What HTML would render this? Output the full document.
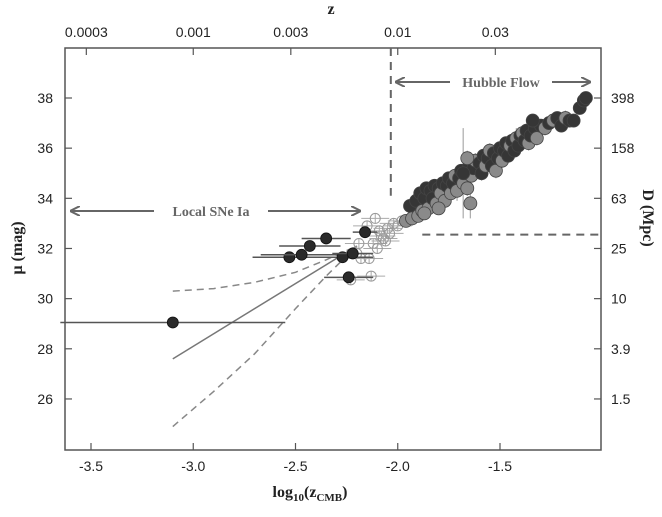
<!DOCTYPE html>
<html><head><meta charset="utf-8"><style>
body{margin:0;background:#fff}
svg text{font-family:"Liberation Sans",sans-serif;fill:#222}
.serif{font-family:"Liberation Serif",serif;font-weight:bold}
</style></head><body>
<svg id="chart" width="662" height="512" viewBox="0 0 662 512" xmlns="http://www.w3.org/2000/svg"></svg>
<script>
const xTicks=[-3.5,-3.0,-2.5,-2.0,-1.5];
const xTickLabels=["-3.5","-3.0","-2.5","-2.0","-1.5"];
const yTicks=[26,28,30,32,34,36,38];
const dTickLabels=["1.5","3.9","10","25","63","158","398"];
const zTicks=[0.0003,0.001,0.003,0.01,0.03];
const zTickLabels=["0.0003","0.001","0.003","0.01","0.03"];
// Hubble-flow SNe [log z, mu, tone(1=dark), error]
const hfX=[-1.96,-1.94,-1.93,-1.91,-1.90,-1.89,-1.88,-1.87,-1.86,-1.85,-1.84,-1.83,-1.82,-1.81,-1.80,-1.79,-1.78,-1.77,-1.76,-1.75,-1.74,-1.73,-1.72,-1.71,-1.70,-1.69,-1.68,-1.67,-1.66,-1.65,-1.64,-1.63,-1.62,-1.645,-1.60,-1.59,-1.58,-1.57,-1.56,-1.55,-1.54,-1.53,-1.52,-1.51,-1.50,-1.49,-1.48,-1.47,-1.46,-1.45,-1.44,-1.43,-1.42,-1.41,-1.40,-1.39,-1.38,-1.37,-1.36,-1.35,-1.33,-1.32,-1.30,-1.34,-1.28,-1.26,-1.24,-1.22,-1.20,-1.18,-1.16,-1.14,-1.11,-1.09,-1.08,-1.87,-1.80,-1.66,-1.68];
const hfY=[33.1,33.7,33.2,33.9,33.3,34.2,33.5,34.0,34.4,33.6,34.3,34.0,34.5,33.8,34.4,34.2,34.6,33.9,34.5,34.8,34.2,34.6,34.9,34.3,34.8,35.1,34.6,35.0,34.4,35.3,34.9,35.2,35.5,33.8,35.4,35.0,35.7,35.3,35.6,35.9,35.3,35.8,35.1,35.6,36.0,35.5,35.9,36.2,35.7,36.1,36.3,35.9,36.4,36.1,36.5,36.6,36.3,36.7,36.2,36.5,36.8,36.4,36.9,37.1,36.8,37.0,37.1,37.2,36.9,37.2,37.1,37.1,37.6,37.9,38.0,33.4,33.6,35.6,35.0];
const hfTone=[0,1,0,1,0,1,0,1,1,0,1,1,1,0,1,0,1,0,1,1,0,1,0,0,1,1,0,1,0,1,0,1,0,0,1,1,1,0,1,0,1,1,0,1,1,0,1,1,1,0,1,1,0,1,1,0,1,1,0,1,1,0,1,1,0,1,0,1,1,0,1,1,1,1,1,0,0,0,1];
const hfErr=[0.2,0.15,0.3,0.15,0.2,0.15,0.2,0.15,0.15,0.4,0.15,0.2,0.15,0.3,0.15,0.2,0.15,0.3,0.15,0.2,0.3,0.15,0.3,0.4,0.15,0.2,0.4,0.15,0.3,0.15,0.2,0.15,0.3,0.6,0.15,0.3,0.15,0.5,0.15,0.3,0.2,0.15,0.3,0.2,0.15,0.3,0.15,0.2,0.15,0.3,0.15,0.2,0.4,0.15,0.2,0.3,0.15,0.2,0.3,0.15,0.2,0.3,0.15,0.2,0.3,0.15,0.3,0.2,0.2,0.3,0.15,0.2,0.15,0.15,0.15,0.2,0.2,0.3,1.8];
// local SNe: filled dark
const locX=[-3.10,-2.53,-2.47,-2.43,-2.35,-2.27,-2.24,-2.22,-2.16];
const locY=[29.05,31.65,31.75,32.1,32.4,31.65,30.85,31.8,32.65];
const locErr=[0.55,0.18,0.2,0.15,0.12,0.15,0.12,0.1,0.06];
// local open circles
const opX=[-2.18,-2.14,-2.12,-2.10,-2.08,-2.06,-2.15,-2.20,-2.13,-2.09,-2.05,-2.02,-2.00,-2.11,-2.19,-2.23,-2.07,-2.04,-1.98];
const opY=[31.6,31.6,32.2,32.0,32.5,32.3,32.9,31.8,30.9,32.7,32.8,33.0,32.9,33.2,32.2,30.75,32.4,32.6,33.1];
// model curves
const lineX=[-3.1,-2.2];
const lineY=[27.6,32.1];
const upX=[-3.1,-2.9,-2.7,-2.5,-2.35,-2.2];
const upY=[30.3,30.4,30.65,31.05,31.55,32.1];
const loX=[-3.1,-2.9,-2.7,-2.5,-2.35,-2.2];
const loY=[24.9,26.3,27.8,29.6,30.9,32.1];

const L=65,R=601,T=48,B=450;
const sx=v=>397.75+(v+2)*204.5;
const sy=m=>98+(38-m)*25.08;
const svg=document.getElementById('chart');
const NS='http://www.w3.org/2000/svg';
function mk(tag,attrs,parent){const e=document.createElementNS(NS,tag);for(const k in attrs)e.setAttribute(k,attrs[k]);(parent||svg).appendChild(e);return e;}

let f=mk('rect',{x:L,y:T,width:R-L,height:B-T,fill:'none',stroke:'#555','stroke-width':1.5});



xTicks.forEach((v,i)=>{
  const x=sx(v);
  const t=mk('line',{x1:x,x2:x,y1:B,y2:B-7,stroke:'#555','stroke-width':1.2});
  
  
  const tx=mk('text',{x:x,y:B+21,'text-anchor':'middle','font-size':14});
  tx.textContent=xTickLabels[i];
  
  
});
zTicks.forEach((z,i)=>{
  const x=sx(Math.log10(z));
  const t=mk('line',{x1:x,x2:x,y1:T,y2:T+7,stroke:'#555','stroke-width':1.2});
  
  
  const tx=mk('text',{x:x,y:T-11,'text-anchor':'middle','font-size':14});
  tx.textContent=zTickLabels[i];
  
  
});
yTicks.forEach((m,i)=>{
  const y=sy(m);
  const t=mk('line',{x1:L,x2:L+7,y1:y,y2:y,stroke:'#555','stroke-width':1.2});
  
  
  const t2=mk('line',{x1:R,x2:R-7,y1:y,y2:y,stroke:'#555','stroke-width':1.2});
  
  
  const tx=mk('text',{x:L-12,y:y+5,'text-anchor':'end','font-size':14});
  tx.textContent=String(m);
  
  
  const tx2=mk('text',{x:R+10,y:y+5,'text-anchor':'start','font-size':14});
  tx2.textContent=dTickLabels[i];
  
  
});

let tt=mk('text',{x:331,y:14,'text-anchor':'middle','font-size':16,class:'serif'});tt.textContent='z';


let xt=mk('text',{x:310,y:497,'text-anchor':'middle','font-size':16,class:'serif'});
xt.innerHTML='log<tspan font-size="11" dy="4">10</tspan><tspan dy="-4">(z</tspan><tspan font-size="11" dy="4">CMB</tspan><tspan dy="-4">)</tspan>';


let yt=mk('text',{x:0,y:0,'text-anchor':'middle','font-size':16,class:'serif',transform:'translate(22,248) rotate(-90)'});yt.textContent='μ (mag)';


let dt=mk('text',{x:0,y:0,'text-anchor':'middle','font-size':16,class:'serif',transform:'translate(643,218) rotate(90)'});dt.textContent='D (Mpc)';



let vd=mk('line',{x1:sx(-2.034),x2:sx(-2.034),y1:T,y2:sy(34.1),stroke:'#666','stroke-width':2,'stroke-dasharray':'8,6'});


let hd=mk('line',{x1:sx(-1.88),x2:R,y1:sy(32.55),y2:sy(32.55),stroke:'#666','stroke-width':2,'stroke-dasharray':'8,6'});



const defs=mk('defs',{});
const mkr=mk('marker',{id:'ah',markerWidth:10,markerHeight:10,refX:9,refY:5,orient:'auto-start-reverse',markerUnits:'userSpaceOnUse'},defs);
mk('path',{d:'M0,0 L10,5 L0,10',fill:'none',stroke:'#666','stroke-width':2},mkr);
function arrow(x1,x2,y,label,lx1,lx2,name){
  const a=mk('line',{x1:x1,x2:lx1,y1:y,y2:y,stroke:'#666','stroke-width':2,'marker-start':'url(#ah)'});
  
  
  const b=mk('line',{x1:lx2,x2:x2,y1:y,y2:y,stroke:'#666','stroke-width':2,'marker-end':'url(#ah)'});
  
  
  const t=mk('text',{x:(lx1+lx2)/2,y:y+5,'text-anchor':'middle','font-size':14,class:'serif',style:'fill:#666'});
  t.textContent=label;
  
  
}
arrow(71,360,211,'Local SNe Ia',154,268,'local-sne');
arrow(396,590,82,'Hubble Flow',450,552,'hubble-flow');

function poly(xs,ys,attrs,name){
  const p=mk('polyline',Object.assign({points:xs.map((v,i)=>sx(v)+','+sy(ys[i])).join(' '),fill:'none'},attrs));
  
  
}
poly(lineX,lineY,{stroke:'#777','stroke-width':1.5},'model-line');
poly(upX,upY,{stroke:'#888','stroke-width':1.5,'stroke-dasharray':'7,5'},'upper-bound');
poly(loX,loY,{stroke:'#888','stroke-width':1.5,'stroke-dasharray':'7,5'},'lower-bound');

opX.forEach((v,i)=>{
  const x=sx(v),y=sy(opY[i]);
  const e=mk('line',{x1:x-14,x2:x+14,y1:y,y2:y,stroke:'#aaa','stroke-width':1});
  
  
  const e2=mk('line',{x1:x,x2:x,y1:y-5,y2:y+5,stroke:'#aaa','stroke-width':1});
  
  
  const c=mk('circle',{cx:x,cy:y,r:5,fill:'none',stroke:'#999','stroke-width':1});
  
  
});
locX.forEach((v,i)=>{
  const x=sx(v),y=sy(locY[i]);
  const e=mk('line',{x1:sx(v-locErr[i]),x2:sx(v+locErr[i]),y1:y,y2:y,stroke:'#555','stroke-width':1.5});
  
  
  const c=mk('circle',{cx:x,cy:y,r:5.5,fill:'#2a2a2a',stroke:'#111','stroke-width':0.8});
  
  
});
hfX.forEach((v,i)=>{
  const x=sx(v);
  const e=mk('line',{x1:x,x2:x,y1:sy(hfY[i]+hfErr[i]),y2:sy(hfY[i]-hfErr[i]),stroke:'#aaa','stroke-width':1.2});
  
  
});
hfX.forEach((v,i)=>{
  const x=sx(v),y=sy(hfY[i]);
  const c=mk('circle',{cx:x,cy:y,r:6.5,fill:hfTone[i]?'#363636':'#8a8a8a',stroke:'#444','stroke-width':0.8});
  
  
});
</script>
</body></html>
